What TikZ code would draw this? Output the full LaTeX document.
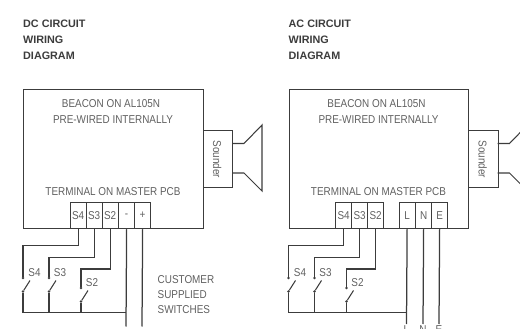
\documentclass[tikz,border=0pt]{standalone}
\usepackage{fontspec}
\setmainfont{Liberation Sans}
\newfontfamily\lightf[FakeStretch=0.87]{Liberation Sans}
\newfontfamily\titlef[Scale=1]{Liberation Sans}
\definecolor{ln}{HTML}{3C3C3C}
\definecolor{tx}{HTML}{606060}
\tikzset{
 wire/.style={draw=ln,line width=1.25pt,line join=miter},
 thinwire/.style={draw=ln,line width=1.05pt},
 lbl/.style={inner sep=0pt,text=tx,font=\lightf\fontsize{11.4}{15}\selectfont},
 ttl/.style={inner sep=0pt,anchor=north west,align=left,text=ln,font=\titlef\bfseries\fontsize{10.8}{16}\selectfont},
 body/.style={wire,rectangle,inner sep=0pt,minimum width=179.5pt,minimum height=139pt,anchor=north west},
 snd/.style={wire,rectangle,inner sep=0pt,minimum width=29.5pt,minimum height=57pt,anchor=north west},
 term/.style={wire,rectangle,inner sep=0pt,minimum width=16pt,minimum height=26pt,anchor=north west,text=tx,font=\lightf\fontsize{11.4}{13}\selectfont},
 dotn/.style={circle,fill=ln,inner sep=0pt,minimum size=2.6pt},
}
\newcommand{\sounder}[2]{%
 \node[snd] (#1snd) at (#2,130) {};
 \node[lbl,rotate=-90] (#1sndt) at (#2+14.8,159.5) {Sounder};
 \coordinate (#1a) at (#2+29.5,143.5);
 \coordinate (#1b) at (#2+29.5,173);
 \coordinate (#1c) at (#2+41.5,143.5);
 \coordinate (#1d) at (#2+41.5,173);
 \coordinate (#1e) at (#2+59.5,125);
 \coordinate (#1f) at (#2+59.5,191);
 \draw[thinwire] (#1a) -- (#1c) -- (#1e) -- (#1f) -- (#1d) -- (#1b);
}
\newcommand{\switch}[7]{% prefix name x topy boty tx lbl
 \node[dotn] (#1#2t) at (#3,#4) {};
 \node[dotn] (#1#2b) at (#3,#5) {};
 \coordinate (#1#2k) at (#3+7,#5-11);
 \draw[thinwire] (#1#2b) -- (#1#2k);
 \node[lbl] (#1#2l) at (#3+#6,#4-5.5) {#7};
}
\begin{document}
\begin{tikzpicture}[x=1pt,y=-1pt]
\useasboundingbox (0,0) rectangle (520,329);
\begin{scope}
\clip (0,0) rectangle (520,329);
% ---------- DC ----------
\node[ttl] (dct) at (23,19.5) {DC CIRCUIT\\WIRING\\DIAGRAM};
\node[body] (dcb) at (23,89) {};
\node[lbl] (dcl1) at (111,104) {BEACON ON AL105N};
\node[lbl] (dcl2) at (113,119.5) {PRE-WIRED INTERNALLY};
\node[lbl] (dcl3) at (113,191.5) {TERMINAL ON MASTER PCB};
\sounder{dc}{202.5}
\node[term] (ds4) at (69.5,202) {S4};
\node[term] (ds3) at (85.5,202) {S3};
\node[term] (ds2) at (101.5,202) {S2};
\node[term] (dm) at (118,202) {-};
\node[term] (dp) at (134,202) {+};
\switch{d}{a}{23}{278}{291.5}{11.5}{S4}
\switch{d}{b}{49}{278}{291.5}{11}{S3}
\switch{d}{c}{81}{288}{301.5}{11}{S2}
\coordinate (dbusl) at (23,312.7);
\coordinate (dbusm) at (126,312.7);
\coordinate (dmend) at (126,326.5);
\coordinate (dpend) at (142,326.5);
\draw[wire] (ds4.south) |- (23,245.5) -- (dat);
\draw[wire] (ds3.south) |- (49,257.7) -- (dbt);
\draw[wire] (ds2.south) |- (81,269) -- (dct);
\draw[wire] (dab) -- (dbusl) -- (dbusm);
\draw[wire] (dbb) -- (49,312.7);
\draw[wire] (dcb) -- (81,312.7);
\draw[wire] (dm.south) -- (dmend);
\draw[wire] (dp.south) -- (dpend);
\node[lbl,anchor=north west,align=left] (cust) at (157.5,275.3) {CUSTOMER\\SUPPLIED\\SWITCHES};
% ---------- AC ----------
\node[ttl] (act) at (288.5,19.5) {AC CIRCUIT\\WIRING\\DIAGRAM};
\node[body] (acb) at (288.5,89) {};
\node[lbl] (acl1) at (376.5,104) {BEACON ON AL105N};
\node[lbl] (acl2) at (378.5,119.5) {PRE-WIRED INTERNALLY};
\node[lbl] (acl3) at (378.5,191.5) {TERMINAL ON MASTER PCB};
\sounder{ac}{468}
\node[term] (as4) at (335,202) {S4};
\node[term] (as3) at (351,202) {S3};
\node[term] (as2) at (367,202) {S2};
\node[term] (al) at (398.5,202) {L};
\node[term] (an) at (415,202) {N};
\node[term] (ae) at (431,202) {E};
\switch{x}{a}{288.5}{278}{291.5}{11.5}{S4}
\switch{x}{b}{314.5}{278}{291.5}{11}{S3}
\switch{x}{c}{346.5}{288}{301.5}{11}{S2}
\coordinate (xbusl) at (288.5,312.7);
\coordinate (lend) at (406.5,324);
\coordinate (nend) at (423,324);
\coordinate (eend) at (439,324);
\draw[wire] (as4.south) |- (288.5,245.5) -- (xat);
\draw[wire] (as3.south) |- (314.5,257.7) -- (xbt);
\draw[wire] (as2.south) |- (346.5,269) -- (xct);
\draw[wire] (xab) -- (xbusl) -- (406.5,312.7);
\draw[wire] (xbb) -- (314.5,312.7);
\draw[wire] (xcb) -- (346.5,312.7);
\draw[wire] (al.south) -- (lend);
\draw[wire] (an.south) -- (nend);
\draw[wire] (ae.south) -- (eend);
\node[lbl,anchor=north] (ll) at (406.5,325.8) {L};
\node[lbl,anchor=north] (nl) at (423,325.8) {N};
\node[lbl,anchor=north] (el) at (439,325.8) {E};
\end{scope}
\end{tikzpicture}
\end{document}
